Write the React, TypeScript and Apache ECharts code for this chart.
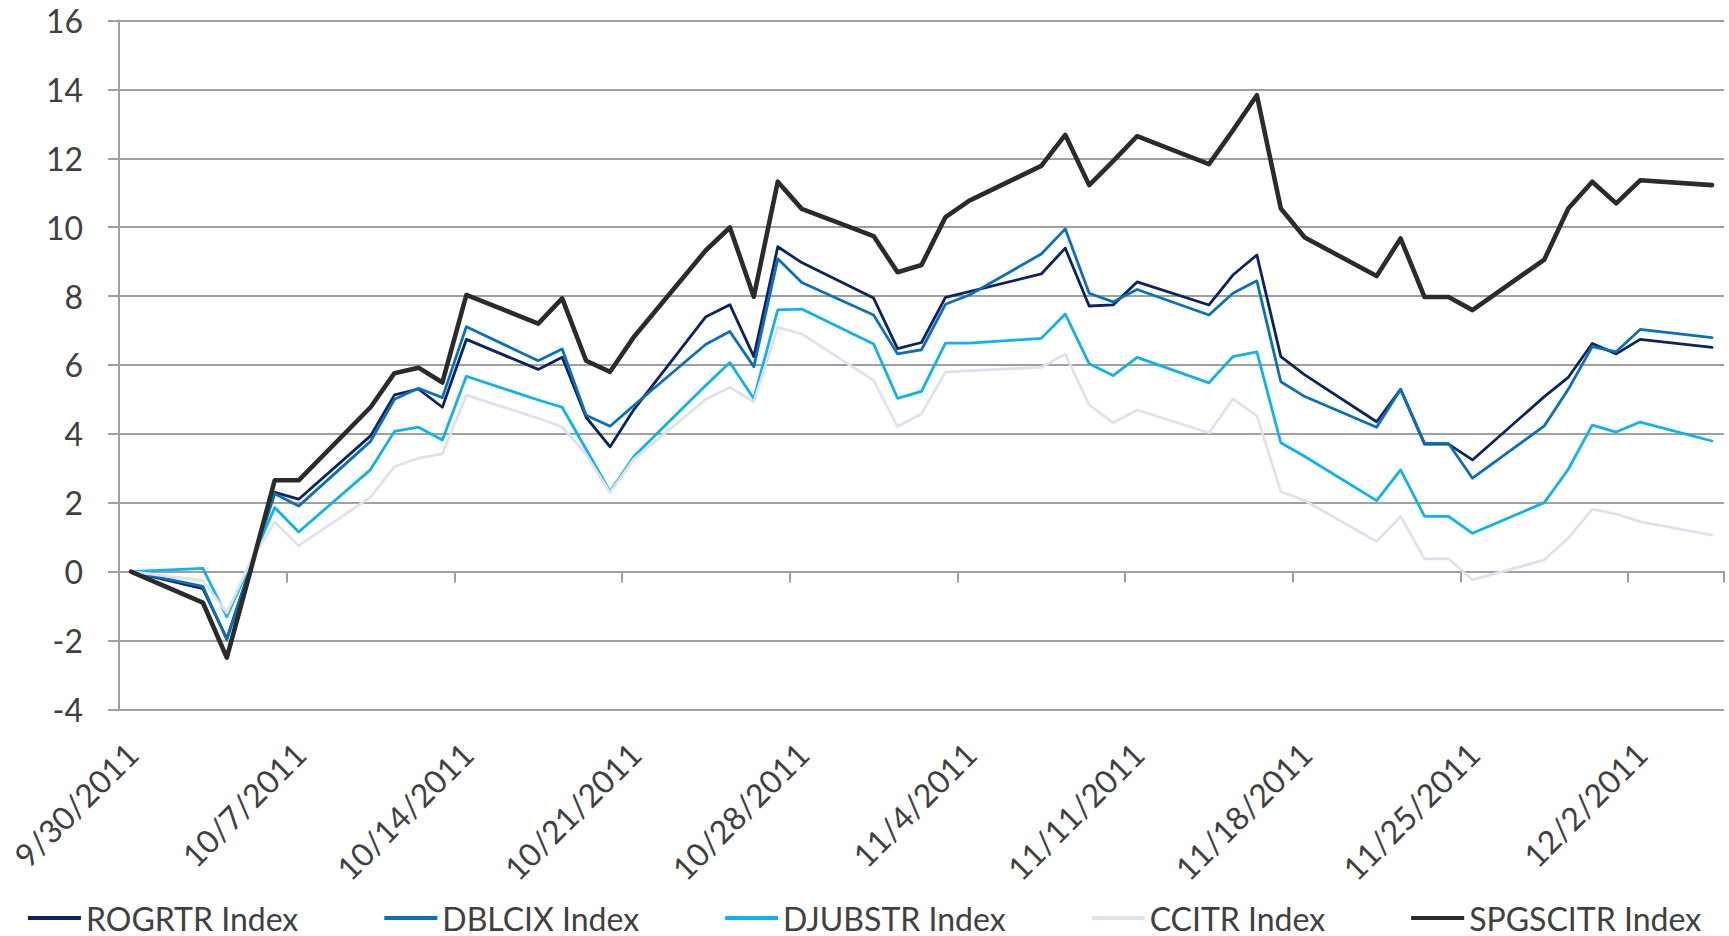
import React, { useEffect, useRef } from "react";
import * as echarts from "echarts";

// Business days with data (M/D/YYYY)
const dates = [
  "9/30/2011", "10/3/2011", "10/4/2011", "10/5/2011", "10/6/2011", "10/7/2011",
  "10/10/2011", "10/11/2011", "10/12/2011", "10/13/2011", "10/14/2011",
  "10/17/2011", "10/18/2011", "10/19/2011", "10/20/2011", "10/21/2011",
  "10/24/2011", "10/25/2011", "10/26/2011", "10/27/2011", "10/28/2011",
  "10/31/2011", "11/1/2011", "11/2/2011", "11/3/2011", "11/4/2011",
  "11/7/2011", "11/8/2011", "11/9/2011", "11/10/2011", "11/11/2011",
  "11/14/2011", "11/15/2011", "11/16/2011", "11/17/2011", "11/18/2011",
  "11/21/2011", "11/22/2011", "11/23/2011", "11/24/2011", "11/25/2011",
  "11/28/2011", "11/29/2011", "11/30/2011", "12/1/2011", "12/2/2011",
  "12/5/2011",
];

const rogrtr = [
  0, -0.5, -1.95, 0.15, 2.3, 2.1,
  3.94, 5.13, 5.3, 4.77, 6.74,
  5.87, 6.22, 4.48, 3.62, 4.71,
  7.4, 7.75, 6.24, 9.43, 8.97,
  7.94, 6.47, 6.65, 7.96, 8.13,
  8.64, 9.39, 7.71, 7.74, 8.41,
  7.74, 8.61, 9.19, 6.24, 5.71,
  4.35, 5.29, 3.7, 3.7, 3.24,
  5.08, 5.64, 6.62, 6.32, 6.74,
  6.51,
];

const dblcix = [
  0, -0.43, -1.98, 0.15, 2.26, 1.9,
  3.78, 5.0, 5.32, 5.05, 7.11,
  6.12, 6.46, 4.54, 4.22, 4.83,
  6.6, 6.97, 5.95, 9.08, 8.39,
  7.45, 6.32, 6.44, 7.76, 8.03,
  9.22, 9.95, 8.08, 7.83, 8.19,
  7.45, 8.08, 8.44, 5.51, 5.08,
  4.19, 5.29, 3.72, 3.72, 2.71,
  4.23, 5.29, 6.53, 6.38, 7.03,
  6.79,
];

const djubstr = [
  0, 0.09, -1.31, 0.25, 1.86, 1.15,
  2.96, 4.07, 4.19, 3.82, 5.67,
  4.98, 4.77, 3.55, 2.32, 3.35,
  5.41, 6.07, 5.02, 7.6, 7.62,
  6.61, 5.03, 5.23, 6.63, 6.63,
  6.77, 7.48, 6.03, 5.69, 6.22,
  5.48, 6.24, 6.38, 3.74, 3.34,
  2.06, 2.95, 1.6, 1.6, 1.11,
  2.0, 2.97, 4.25, 4.05, 4.34,
  3.79,
];

const ccitr = [
  0, -0.26, -1.2, 0.3, 1.44, 0.75,
  2.16, 3.05, 3.29, 3.42, 5.12,
  4.45, 4.2, 3.4, 2.29, 3.27,
  5.0, 5.35, 4.93, 7.09, 6.9,
  5.55, 4.21, 4.58, 5.79, 5.83,
  5.93, 6.31, 4.84, 4.32, 4.69,
  4.03, 5.01, 4.52, 2.32, 2.06,
  0.87, 1.6, 0.37, 0.37, -0.24,
  0.34, 0.97, 1.81, 1.67, 1.45,
  1.06,
];

const spgscitr = [
  0, -0.9, -2.5, 0.05, 2.65, 2.65,
  4.77, 5.76, 5.92, 5.49, 8.03,
  7.2, 7.93, 6.12, 5.8, 6.82,
  9.33, 9.99, 7.98, 11.32, 10.53,
  9.74, 8.69, 8.9, 10.29, 10.77,
  11.78, 12.68, 11.22, 11.92, 12.64,
  11.83, 12.81, 13.83, 10.54, 9.7,
  8.58, 9.67, 7.97, 7.97, 7.59,
  9.06, 10.54, 11.32, 10.69, 11.36,
  11.22,
];

const seriesNames = ["ROGRTR Index", "DBLCIX Index", "DJUBSTR Index", "CCITR Index", "SPGSCITR Index"];
const seriesValues = [rogrtr, dblcix, djubstr, ccitr, spgscitr];
const seriesColors = ["#0b2263", "#0a70be", "#0fb1ee", "#dfe2ee", "#2b2b2b"];
const seriesWidths = [2.8, 2.8, 2.8, 2.8, 4.6];

const yTicks = { min: -4, max: 16, interval: 2 };
const firstDay = "9/30/2011";
const lastDay = "12/5/2011";

function parseDate(s: string) {
  const [m, d, y] = s.split("/").map(Number);
  return new Date(y, m - 1, d);
}
function fmt(dt: Date) {
  return `${dt.getMonth() + 1}/${dt.getDate()}/${dt.getFullYear()}`;
}

// calendar-day categories (date axis)
const categories: string[] = [];
{
  const s = parseDate(firstDay);
  const e = parseDate(lastDay);
  for (let t = new Date(s); t <= e; t.setDate(t.getDate() + 1)) categories.push(fmt(t));
}
const dayIndex = dates.map((d) => categories.indexOf(d));

const FONT = "Lato";
const TEXT = "#404040";
const GRID = "#a0a0a0";

function buildOption() {
  const plotLeft = 119;
  const plotRight = 5;
  const plotTop = 20.5;
  const plotBottom = 936 - 709.3;
  const labelShift = 1;
  return {
    animation: false,
    backgroundColor: "#ffffff",
    grid: [
      { left: plotLeft, right: plotRight, top: plotTop, bottom: plotBottom, containLabel: false },
      { left: plotLeft + labelShift, right: plotRight - labelShift, top: plotTop, bottom: plotBottom, containLabel: false },
    ],
    xAxis: [
      {
        type: "category",
        gridIndex: 0,
        data: categories,
        boundaryGap: true,
        axisLine: { show: true, onZero: true, lineStyle: { color: GRID, width: 2 } },
        axisTick: { show: true, interval: 6, length: 11, inside: false, lineStyle: { color: GRID, width: 2 } },
        axisLabel: { show: false },
        splitLine: { show: false },
      },
      {
        type: "category",
        gridIndex: 1,
        data: categories,
        boundaryGap: true,
        axisLine: { show: false, onZero: false },
        axisTick: { show: false },
        axisLabel: {
          show: true,
          interval: 6,
          rotate: 45,
          margin: 39,
          color: TEXT,
          fontFamily: FONT,
          fontSize: 32,
        },
        splitLine: { show: false },
      },
    ],
    yAxis: [
      {
        type: "value",
        gridIndex: 0,
        min: yTicks.min,
        max: yTicks.max,
        interval: yTicks.interval,
        axisLine: { show: true, lineStyle: { color: GRID, width: 2 } },
        axisTick: { show: true, length: 11, inside: false, lineStyle: { color: GRID, width: 2 } },
        axisLabel: { color: TEXT, fontFamily: FONT, fontSize: 32, margin: 36 },
        splitLine: { show: true, lineStyle: { color: GRID, width: 2 } },
      },
      {
        type: "value",
        gridIndex: 1,
        min: yTicks.min,
        max: yTicks.max,
        interval: yTicks.interval,
        show: false,
      },
    ],
    legend: {
      show: true,
      left: "center",
      top: 894,
      itemWidth: 53,
      itemHeight: 4,
      itemGap: 86,
      data: seriesNames.map((name, i) => ({
        name,
        icon: "rect",
        itemStyle: { color: seriesColors[i], borderWidth: 0 },
      })),
      textStyle: { color: TEXT, fontFamily: FONT, fontSize: 32, lineHeight: 38 },
    },
    series: seriesNames.map((name, i) => ({
      name,
      type: "line",
      xAxisIndex: 0,
      yAxisIndex: 0,
      symbol: "none",
      showSymbol: false,
      color: seriesColors[i],
      lineStyle: { color: seriesColors[i], width: seriesWidths[i], cap: "round", join: "round" },
      data: seriesValues[i].map((v, k) => [dayIndex[k], v]),
      z: 2 + i,
    })),
  };
}

export default function App() {
  const ref = useRef<HTMLDivElement>(null);
  useEffect(() => {
    if (!ref.current) return;
    const chart = echarts.init(ref.current, null, { renderer: "svg" });
    chart.setOption(buildOption() as any);
    return () => chart.dispose();
  }, []);
  return (
    <div
      ref={ref}
      style={{ position: "fixed", left: 0, top: 0, width: 1729, height: 936, background: "#fff" }}
    />
  );
}
